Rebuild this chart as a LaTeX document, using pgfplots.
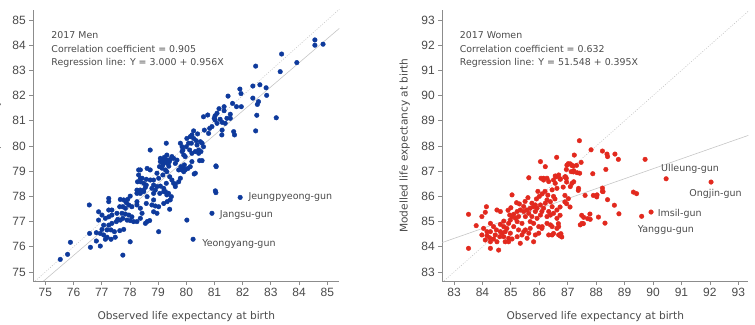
\documentclass[border=0pt]{standalone}
\usepackage{fontspec}
\setmainfont{DejaVu Sans}
\newfontfamily\tickfont{Liberation Sans}
\usepackage{pgfplots}
\usepackage{pgfplotstable}
\pgfplotsset{compat=1.18}

\definecolor{menblue}{HTML}{0E3A9C}
\definecolor{womenred}{HTML}{E2291E}
\definecolor{axisgray}{HTML}{8C8C8C}
\definecolor{txtgray}{HTML}{4A4A4A}
\definecolor{refgray}{HTML}{C6C6C6}

% Observed (x) and modelled (y) life expectancy at birth, 2017, men
\pgfplotstableread{
x y
84.56 84.21
84.56 84.00
84.85 84.04
83.38 83.65
83.92 83.31
82.46 83.17
83.33 82.95
81.90 82.26
81.94 82.08
82.36 82.38
82.61 82.43
82.83 82.31
82.85 82.01
82.36 81.90
81.48 81.98
82.56 81.76
82.52 81.65
81.64 81.69
81.78 81.56
81.95 81.56
81.34 81.56
81.34 81.40
81.16 81.48
81.56 81.26
81.56 81.10
82.50 81.22
83.19 81.12
80.61 81.16
80.76 81.23
81.02 81.20
81.02 81.03
81.20 81.06
81.27 80.94
80.83 80.70
80.64 80.63
80.26 80.60
81.27 80.63
81.68 80.57
82.46 80.60
81.44 81.10
81.38 80.90
80.91 80.77
81.09 81.30
80.99 81.10
81.71 80.44
81.26 80.44
81.09 80.90
80.79 80.50
80.20 80.44
80.02 80.30
80.08 80.11
80.26 80.30
80.38 80.04
80.32 79.78
80.44 79.71
80.56 80.11
80.61 79.97
80.20 79.71
79.85 79.97
79.85 79.78
79.91 79.64
79.96 79.58
80.56 79.42
81.05 79.21
80.28 78.89
79.96 79.05
79.91 78.98
81.03 78.22
81.05 78.15
81.91 77.96
80.91 77.33
80.02 77.06
80.24 76.30
80.40 80.48
80.14 80.37
80.35 80.21
80.50 80.17
80.18 80.11
80.00 79.97
79.79 80.11
79.88 79.84
80.12 79.84
80.44 79.84
80.52 79.78
80.47 79.42
80.20 79.38
80.14 79.18
79.93 79.25
79.81 79.18
79.73 79.05
79.85 79.05
79.61 79.31
79.67 79.44
79.55 79.51
79.49 79.58
79.43 79.47
79.31 79.64
79.29 80.11
78.72 79.84
79.08 79.51
79.17 79.25
79.14 79.12
79.26 79.05
79.05 79.18
78.96 78.92
79.02 78.72
79.17 78.85
79.31 78.98
79.41 78.78
79.49 78.65
79.61 78.49
79.73 78.58
79.79 78.72
79.61 78.39
79.91 79.11
80.06 79.11
80.32 78.92
81.06 79.18
78.84 78.65
78.72 78.65
78.58 78.45
78.43 78.72
78.31 79.05
78.37 78.58
78.27 78.58
78.25 78.25
78.49 78.25
78.55 78.36
78.78 78.32
78.96 78.39
79.08 78.41
79.20 78.32
79.26 78.19
78.84 78.12
79.47 77.99
79.31 78.06
79.20 79.40
79.25 79.35
79.35 79.30
79.30 79.45
79.40 79.38
79.15 79.45
79.22 79.55
79.38 79.20
75.53 75.50
75.79 75.70
75.89 76.18
76.60 75.98
76.95 76.03
76.81 76.23
76.57 76.53
76.81 76.56
76.95 76.53
77.07 76.47
77.19 76.38
77.13 76.30
77.33 76.30
77.48 76.38
77.01 76.69
77.19 76.67
77.33 76.67
77.45 76.60
77.64 76.64
77.78 76.69
77.07 76.86
77.25 76.86
77.36 76.93
77.52 77.00
77.66 77.06
77.57 77.09
77.75 77.13
77.90 77.06
78.01 77.04
78.13 77.00
78.25 77.00
78.07 77.19
77.96 77.26
77.84 77.30
77.72 77.33
77.54 77.33
77.36 77.26
77.25 77.19
77.13 77.13
76.89 77.06
77.01 77.26
76.89 77.39
77.25 77.46
77.36 77.46
77.64 77.59
77.75 77.59
77.84 77.53
77.96 77.66
78.07 77.59
78.25 77.66
78.37 77.53
78.43 77.33
78.37 77.13
78.61 77.00
78.70 77.04
78.55 76.93
78.01 76.20
77.75 75.67
79.02 76.60
76.56 77.66
77.25 77.79
77.25 77.92
77.66 77.88
77.78 77.86
77.87 77.75
78.01 78.01
77.92 77.88
78.25 77.79
78.25 78.12
78.37 78.12
78.37 78.25
78.49 78.19
78.61 77.99
78.58 77.72
78.78 77.66
78.84 77.86
78.90 77.62
79.02 77.59
79.20 77.72
79.32 77.79
79.43 77.86
79.41 77.49
78.84 77.39
78.96 77.33
78.49 78.52
78.37 78.72
78.31 78.85
78.37 79.05
78.61 79.11
78.72 79.05
78.58 78.68
78.84 78.45
78.90 78.25
79.06 78.12
79.20 78.19
79.37 78.12
79.55 78.52
79.29 78.52
79.08 79.38
}\mendata

% Observed (x) and modelled (y) life expectancy at birth, 2017, women
\pgfplotstableread{
x y
83.51 85.29
83.51 83.94
83.78 84.84
83.98 85.20
84.14 85.59
84.10 85.37
84.51 85.46
84.63 85.40
84.04 84.73
84.16 84.60
83.98 84.47
84.16 84.44
84.25 84.36
84.39 84.31
84.28 84.20
84.51 84.20
84.10 84.27
84.28 84.93
84.39 84.80
84.28 84.60
84.49 84.67
84.63 84.60
84.45 84.47
84.61 84.40
84.75 84.40
84.69 84.54
84.80 84.60
84.86 84.73
84.75 84.80
84.63 84.89
84.75 85.02
84.92 84.93
84.98 85.06
85.04 85.20
85.10 85.29
84.96 85.26
85.16 85.13
85.22 85.00
85.10 84.80
84.98 84.54
84.92 84.34
84.80 84.20
84.92 84.20
85.04 84.31
85.22 84.40
85.33 84.14
85.39 84.47
85.45 84.60
85.51 84.67
85.27 84.67
85.39 84.93
85.27 85.20
85.22 85.40
85.33 85.46
85.45 85.40
85.57 85.46
85.51 85.20
85.63 85.33
85.68 85.53
85.80 85.59
85.74 85.73
85.86 85.66
85.92 85.53
85.86 85.40
85.74 85.20
85.68 85.00
85.80 84.93
85.92 85.13
86.04 85.26
86.09 85.40
86.15 85.53
86.04 85.66
86.21 85.73
86.27 85.86
86.39 85.79
86.45 85.59
86.33 85.40
86.39 85.26
86.50 85.33
86.62 85.46
86.27 85.20
86.27 84.93
86.39 84.87
86.09 84.73
85.98 84.80
85.68 84.73
85.63 84.54
85.86 84.47
85.98 84.54
85.80 84.20
85.57 84.34
85.04 86.06
85.63 86.74
86.04 87.38
86.21 87.18
86.06 86.72
86.15 86.65
86.27 86.72
86.33 86.59
86.50 86.65
86.60 86.78
86.56 86.52
86.62 86.32
86.45 86.26
84.28 83.94
84.57 83.87
86.45 84.47
86.62 84.73
86.68 84.47
86.76 84.52
86.79 84.39
86.67 84.92
86.73 85.25
86.73 85.58
86.90 86.04
87.02 85.91
86.96 85.71
87.08 85.58
86.90 85.78
86.84 86.37
86.96 86.57
86.90 86.77
86.73 86.70
87.20 86.97
87.14 87.23
87.31 87.23
87.02 87.30
87.37 86.24
87.49 85.25
87.55 84.92
89.31 86.17
89.42 86.11
89.60 85.21
89.93 85.38
90.46 86.70
92.04 86.57
87.88 86.90
88.34 87.07
88.40 85.87
88.64 85.65
88.80 85.31
88.31 84.94
88.08 85.18
87.78 85.30
87.70 85.12
87.61 86.04
87.90 86.04
88.02 85.98
88.22 86.33
88.22 86.20
87.41 88.21
87.82 87.85
88.22 87.80
88.38 87.68
88.40 87.58
88.66 87.68
88.78 87.47
89.72 87.47
87.23 87.64
86.61 87.55
87.47 87.35
86.97 87.24
87.09 87.29
87.19 87.21
86.95 87.07
87.12 86.98
87.21 87.02
87.33 86.94
87.42 86.92
86.56 86.81
86.68 86.85
86.74 86.68
86.92 86.78
86.95 86.72
86.15 86.72
87.15 86.52
87.21 86.58
87.09 86.39
87.38 86.32
88.24 86.19
88.03 86.06
87.56 85.17
87.79 85.09
87.44 84.87
87.50 84.93
86.62 85.13
86.45 84.80
86.68 84.80
86.33 84.47
86.50 84.53
86.74 84.43
86.10 84.80
85.30 85.70
85.50 85.80
85.60 85.95
85.90 85.90
86.00 86.00
86.10 86.10
86.20 86.20
86.30 86.05
85.95 86.20
86.50 86.00
86.55 85.90
85.45 85.60
85.20 85.75
85.00 85.55
84.90 85.45
}\womendata

\tikzset{
  note/.style={font=\fontsize{9.4}{11}\selectfont, text=txtgray, inner sep=0pt, anchor=base west},
  place/.style={font=\fontsize{9.5}{11}\selectfont, text=txtgray, inner sep=0pt, anchor=west},
}

\pgfplotsset{
  lifeaxis/.style={
    scale only axis, width=306pt, height=271pt, anchor=south west,
    axis x line*=bottom, axis y line*=left,
    axis line style={axisgray, line width=0.8pt},
    tick align=outside, major tick length=4pt,
    tick style={axisgray, line width=0.8pt},
    /pgf/number format/assume math mode=true,
    ticklabel style={font=\tickfont\fontsize{12}{13}\selectfont, text=txtgray},
    every axis x label/.style={at={(axis description cs:0.5,0)}, anchor=center, yshift=-36pt,
      font=\fontsize{10.6}{12}\selectfont, text=txtgray},
    every axis y label/.style={at={(axis description cs:-0.1229,0.5)}, anchor=center, rotate=90,
      font=\fontsize{10.6}{12}\selectfont, text=txtgray},
    xlabel={Observed life expectancy at birth},
    ylabel={Modelled life expectancy at birth},
  }
}

\begin{document}
\begin{tikzpicture}
\useasboundingbox (0,0) rectangle (755pt,324pt);

% Men
\begin{axis}[lifeaxis, at={(33.3pt,43pt)},
  xmin=74.574, xmax=85.426, ymin=74.643, ymax=85.397,
  xtick={75,76,...,85}, ytick={75,76,...,85}]
\addplot[refgray, line width=0.6pt, dash pattern=on 1pt off 1.5pt] coordinates {(74.574,74.574) (85.426,85.426)};
\addplot[refgray, line width=0.6pt] coordinates {(74.574,74.293) (85.426,84.667)};
\addplot[only marks, mark=*, mark size=2.3pt, color=menblue] table {\mendata};
\node[note] at (rel axis cs:0.0588,0.896) {2017 Men};
\node[note] at (rel axis cs:0.0588,0.845) {Correlation coefficient = 0.905};
\node[note] at (rel axis cs:0.0588,0.796) {Regression line: Y = 3.000 + 0.956X};
\node[place] at (axis cs:82.20,77.98) {Jeungpyeong-gun};
\node[place] at (axis cs:81.18,77.25) {Jangsu-gun};
\node[place] at (axis cs:80.56,76.12) {Yeongyang-gun};
\end{axis}

% Women
\begin{axis}[lifeaxis, at={(442.3pt,43pt)},
  xmin=82.588, xmax=93.35, ymin=82.643, ymax=93.397,
  xtick={83,84,...,93}, ytick={83,84,...,93}]
\addplot[refgray, line width=0.6pt, dash pattern=on 1pt off 1.5pt] coordinates {(82.588,82.588) (93.35,93.35)};
\addplot[refgray, line width=0.6pt] coordinates {(82.588,84.170) (93.35,88.421)};
\addplot[only marks, mark=*, mark size=2.3pt, color=womenred] table {\womendata};
\node[note] at (rel axis cs:0.0569,0.896) {2017 Women};
\node[note] at (rel axis cs:0.0569,0.845) {Correlation coefficient = 0.632};
\node[note] at (rel axis cs:0.0569,0.796) {Regression line: Y = 51.548 + 0.395X};
\node[place] at (axis cs:90.28,87.08) {Ulleung-gun};
\node[place] at (axis cs:91.27,86.11) {Ongjin-gun};
\node[place] at (axis cs:90.16,85.31) {Imsil-gun};
\node[place] at (axis cs:89.46,84.65) {Yanggu-gun};
\end{axis}
\end{tikzpicture}
\end{document}
